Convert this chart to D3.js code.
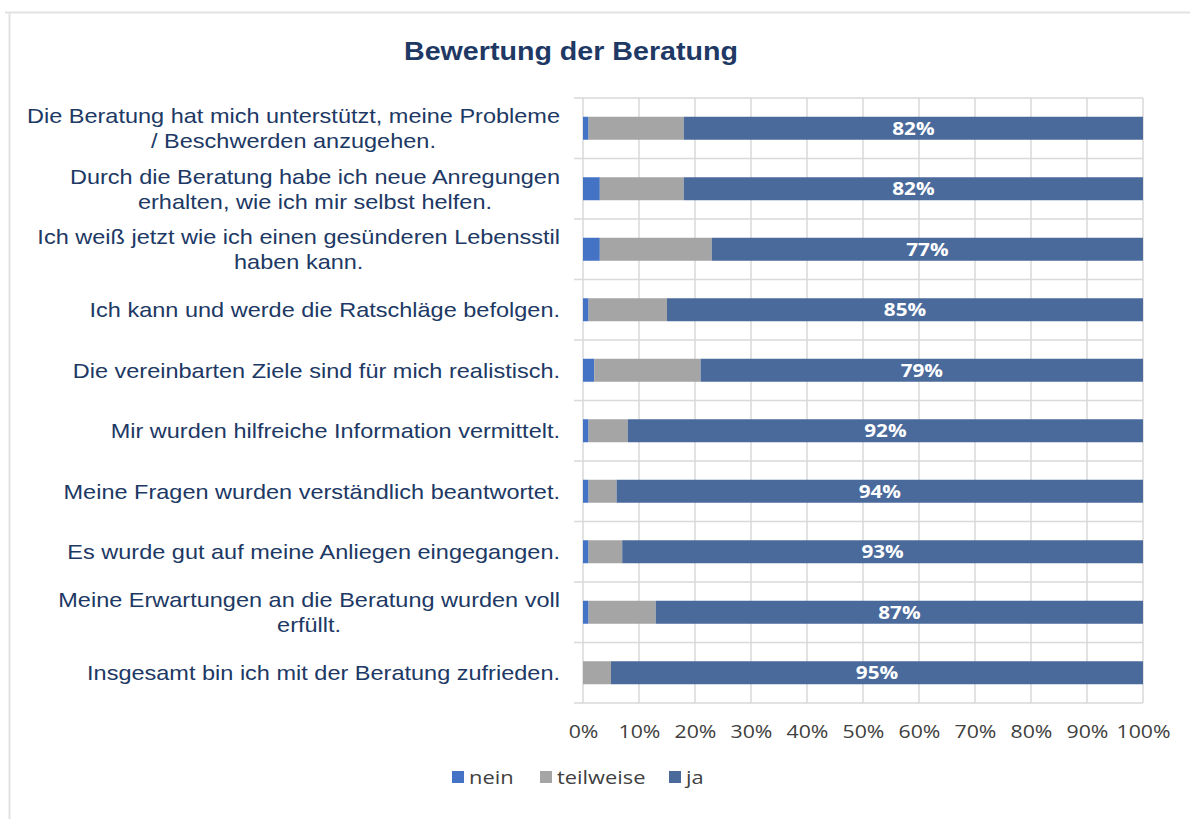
<!DOCTYPE html>
<html>
<head>
<meta charset="utf-8">
<script src="https://cdn.jsdelivr.net/npm/d3@7"></script>
<style>
  body { margin: 0; background: #fff; }
  svg { display: block; }
</style>
</head>
<body>
<svg id="chart" width="1190" height="819"></svg>
<script>
// categories top to bottom, each one is a list of lines
const categories = [
    ["Die Beratung hat mich unterstützt, meine Probleme", "/ Beschwerden anzugehen."],
    ["Durch die Beratung habe ich neue Anregungen", "erhalten, wie ich mir selbst helfen."],
    ["Ich weiß jetzt wie ich einen gesünderen Lebensstil", "haben kann."],
    ["Ich kann und werde die Ratschläge befolgen."],
    ["Die vereinbarten Ziele sind für mich realistisch."],
    ["Mir wurden hilfreiche Information vermittelt."],
    ["Meine Fragen wurden verständlich beantwortet."],
    ["Es wurde gut auf meine Anliegen eingegangen."],
    ["Meine Erwartungen an die Beratung wurden voll", "erfüllt."],
    ["Insgesamt bin ich mit der Beratung zufrieden."]
];
const nein      = [1, 3, 3, 1, 2, 1, 1, 1, 1, 0];
const teilweise = [17, 15, 20, 14, 19, 7, 5, 6, 12, 5];
const ja        = [82, 82, 77, 85, 79, 92, 94, 93, 87, 95];
const seriesNames = ["nein", "teilweise", "ja"];
const tickValues = [0, 10, 20, 30, 40, 50, 60, 70, 80, 90, 100];

const colors = {nein: "#4472c4", teilweise: "#a5a5a5", ja: "#4a6a9c"};
const textNavy = "#203864";
// the picture is a bit stretched sideways, so texts get stretched too
const sx = 1.15;

const svg = d3.select("#chart");

// outer frame (only top and left visible in the picture)
svg.append("line").attr("x1", 5).attr("x2", 1190).attr("y1", 12.5).attr("y2", 12.5)
    .attr("stroke", "#e2e2e2").attr("stroke-width", 2);
svg.append("line").attr("x1", 9.5).attr("x2", 9.5).attr("y1", 12).attr("y2", 819)
    .attr("stroke", "#e2e2e2").attr("stroke-width", 2);

svg.append("text")
    .attr("x", 571).attr("y", 60)
    .attr("text-anchor", "middle")
    .attr("font-family", "Liberation Sans, Arial, sans-serif")
    .attr("font-weight", "bold")
    .attr("font-size", 26)
    .attr("fill", textNavy)
    .attr("textLength", 334)
    .attr("lengthAdjust", "spacingAndGlyphs")
    .text("Bewertung der Beratung");

const plotLeft = 583, plotRight = 1143, plotTop = 98, plotBottom = 703;

const x = d3.scaleLinear().domain([0, 100]).range([plotLeft, plotRight]);
const y = d3.scaleBand().domain(d3.range(categories.length)).range([plotTop, plotBottom]).paddingInner(0.62).paddingOuter(0.31);

const rows = categories.map((c, i) => ({i: i, nein: nein[i], teilweise: teilweise[i], ja: ja[i]}));
const stacked = d3.stack().keys(seriesNames)(rows);

const g = svg.append("g");

// vertical gridlines
g.selectAll("line.vgrid").data(tickValues).join("line")
    .attr("class", "vgrid")
    .attr("x1", d => x(d)).attr("x2", d => x(d))
    .attr("y1", plotTop).attr("y2", plotBottom)
    .attr("stroke", "#d9d9d9").attr("stroke-width", 1.5);

// horizontal lines at category borders, with little ticks sticking out left
const step = y.step();
g.selectAll("line.hgrid").data(d3.range(categories.length + 1)).join("line")
    .attr("class", "hgrid")
    .attr("x1", plotLeft - 9).attr("x2", plotRight)
    .attr("y1", d => plotTop + d * step).attr("y2", d => plotTop + d * step)
    .attr("stroke", "#d9d9d9").attr("stroke-width", 1.5);

// bars
g.selectAll("g.series").data(stacked).join("g")
    .attr("class", "series")
    .attr("fill", d => colors[d.key])
    .selectAll("rect").data(d => d).join("rect")
    .attr("x", d => x(d[0]))
    .attr("width", d => x(d[1]) - x(d[0]))
    .attr("y", d => y(d.data.i))
    .attr("height", y.bandwidth());

// value labels on the "ja" part
const jaLayer = stacked[2];
g.selectAll("text.val").data(jaLayer).join("text")
    .attr("class", "val")
    .attr("transform", d => `translate(${(x(d[0]) + x(d[1])) / 2},${y(d.data.i) + y.bandwidth() / 2}) scale(${sx},1)`)
    .attr("dy", "0.36em")
    .attr("text-anchor", "middle")
    .attr("font-family", "Open Sans, Liberation Sans, sans-serif")
    .attr("font-weight", "bold")
    .attr("font-size", 18)
    .attr("fill", "#fff")
    .text(d => d.data.ja + "%");

// category labels: block right aligned at 560, lines centred to each other
const lineH = 25;
categories.forEach((lines, i) => {
    const cy = y(i) + y.bandwidth() / 2;
    const t = svg.append("text")
        .attr("transform", `translate(560,${cy}) scale(1.12,1)`)
        .attr("font-family", "Liberation Sans, Arial, sans-serif")
        .attr("font-size", 21)
        .attr("fill", textNavy)
        .attr("text-anchor", "middle");
    lines.forEach((l, k) => {
        t.append("tspan").attr("x", 0)
            .attr("y", (k - (lines.length - 1) / 2) * lineH).attr("dy", "0.35em").text(l);
    });
    const w = t.node().getBBox().width;
    t.selectAll("tspan").attr("x", -w / 2);
});

// x axis tick labels
svg.append("g")
    .attr("transform", `translate(0,${plotBottom})`)
    .call(d3.axisBottom(x).tickValues(tickValues).tickFormat(d => d + "%").tickSize(0).tickPadding(22))
    .call(a => a.select(".domain").remove())
    .selectAll("text")
    .attr("transform", `scale(${sx},1)`)
    .attr("font-family", "Open Sans, Liberation Sans, sans-serif")
    .attr("font-size", 18.5)
    .attr("fill", "#404040");

// legend
const legendItems = [
    {key: "nein", x: 452},
    {key: "teilweise", x: 540},
    {key: "ja", x: 669}
];
const lg = svg.append("g").selectAll("g").data(legendItems).join("g")
    .attr("transform", d => `translate(${d.x},777)`);
lg.append("rect").attr("x", 0).attr("y", -6).attr("width", 12).attr("height", 12)
    .attr("fill", d => colors[d.key]);
lg.append("text")
    .attr("transform", `translate(17,0) scale(${sx},1)`)
    .attr("dy", "0.36em")
    .attr("font-family", "Open Sans, Liberation Sans, sans-serif")
    .attr("font-size", 19)
    .attr("fill", "#404040")
    .text(d => d.key);
</script>
</body>
</html>
